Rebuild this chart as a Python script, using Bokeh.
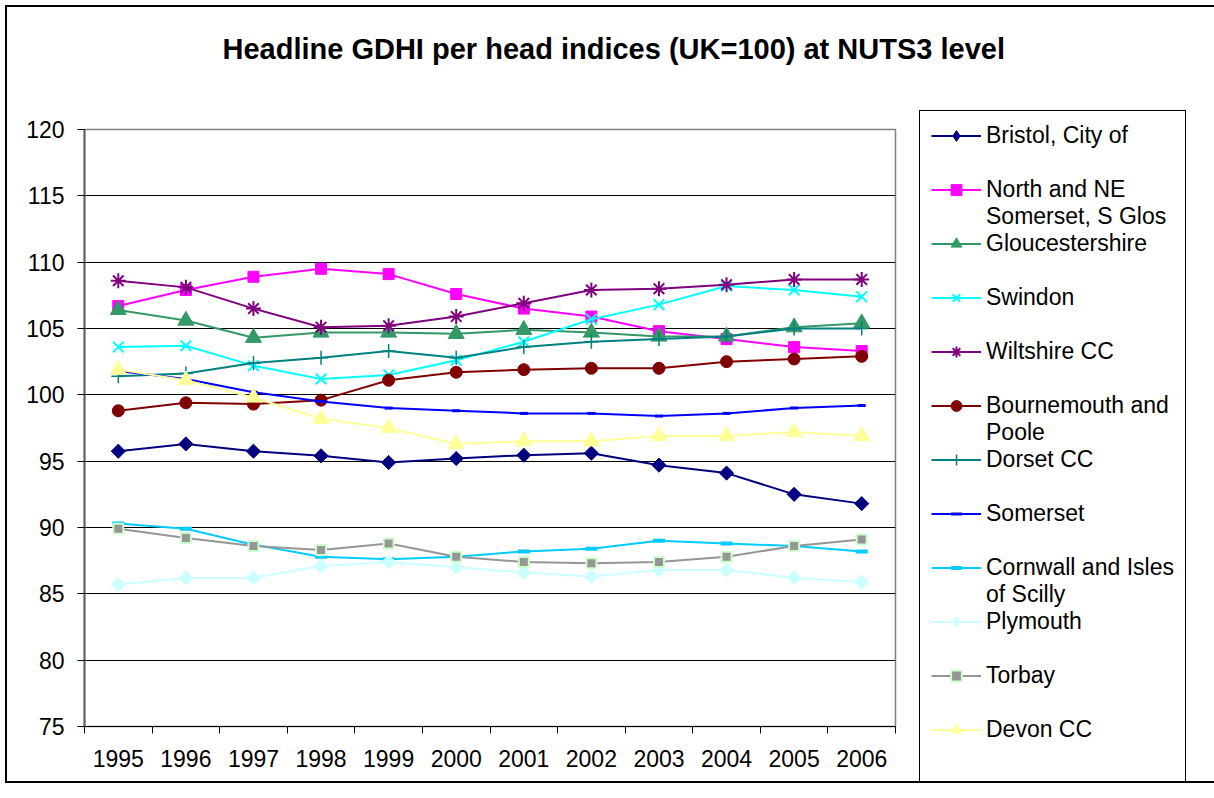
from bokeh.plotting import figure
from bokeh.models import (Legend, LegendItem, FixedTicker, Range1d, Title)
from bokeh.embed import file_html
from bokeh.resources import INLINE
import math

years = [1995, 1996, 1997, 1998, 1999, 2000, 2001, 2002, 2003, 2004, 2005, 2006]

bristol = [95.75, 96.3, 95.75, 95.4, 94.9, 95.2, 95.45, 95.6, 94.7, 94.1, 92.5, 91.8]
nne_somerset = [106.7, 107.9, 108.9, 109.5, 109.1, 107.6, 106.5, 105.9, 104.8, 104.2, 103.6, 103.3]
gloucestershire = [106.4, 105.6, 104.3, 104.7, 104.7, 104.6, 104.9, 104.7, 104.4, 104.4, 105.1, 105.4]
swindon = [103.6, 103.7, 102.2, 101.2, 101.5, 102.6, 104.0, 105.7, 106.8, 108.2, 107.9, 107.4]
wiltshire = [108.6, 108.1, 106.5, 105.1, 105.2, 105.9, 106.9, 107.9, 108.0, 108.3, 108.7, 108.7]
bournemouth = [98.8, 99.4, 99.3, 99.6, 101.1, 101.7, 101.9, 102.0, 102.0, 102.5, 102.7, 102.9]
dorset = [101.4, 101.6, 102.4, 102.8, 103.3, 102.8, 103.6, 104.0, 104.2, 104.4, 105.0, 105.0]
somerset = [101.8, 101.2, 100.2, 99.5, 99.0, 98.8, 98.6, 98.6, 98.4, 98.6, 99.0, 99.2]
cornwall = [90.3, 89.9, 88.7, 87.8, 87.6, 87.8, 88.2, 88.4, 89.0, 88.8, 88.6, 88.2]
plymouth = [85.7, 86.2, 86.2, 87.1, 87.4, 87.0, 86.6, 86.3, 86.8, 86.8, 86.2, 85.9]
torbay = [89.9, 89.2, 88.6, 88.3, 88.8, 87.8, 87.4, 87.3, 87.4, 87.8, 88.6, 89.1]
devon = [101.9, 101.1, 99.8, 98.2, 97.5, 96.3, 96.5, 96.5, 96.9, 96.9, 97.2, 96.9]

y_ticks = [75, 80, 85, 90, 95, 100, 105, 110, 115, 120]

D = math.pi / 4
NAN = float("nan")
# labels, values, line colour, marker, size, angle, fill, outline, marker line width, legend marker
series = [
    (["Bristol, City of"], bristol, "#000080", "square", 10, D, "#000080", "#000080", 1, "diamond"),
    (["North and NE", "Somerset, S Glos"], nne_somerset, "#FF00FF", "square", 11, 0, "#FF00FF", "#FF00FF", 1, None),
    (["Gloucestershire"], gloucestershire, "#339966", "triangle", 16, 0, "#339966", "#339966", 1, None),
    (["Swindon"], swindon, "#00FFFF", "x", 15, 0, "#00FFFF", "#00FFFF", 2, None),
    (["Wiltshire CC"], wiltshire, "#800080", "asterisk", 15, 0, "#800080", "#800080", 2, None),
    (["Bournemouth and", "Poole"], bournemouth, "#800000", "circle", 12, 0, "#800000", "#800000", 1, None),
    (["Dorset CC"], dorset, "#008080", "cross", 14, 0, "#008080", "#008080", 1.5, None),
    (["Somerset"], somerset, "#0000FF", "dash", 8, 0, "#0000FF", "#0000FF", 3, None),
    (["Cornwall and Isles", "of Scilly"], cornwall, "#00CCFF", "dash", 12, 0, "#00CCFF", "#00CCFF", 4, None),
    (["Plymouth"], plymouth, "#CCFFFF", "square", 10, D, "#CCFFFF", "#CCFFFF", 1, "diamond"),
    (["Torbay"], torbay, "#969696", "square", 10, 0, "#969696", "#CCFFCC", 2, None),
    (["Devon CC"], devon, "#FFFF99", "triangle", 16, 0, "#FFFF99", "#FFFF99", 1, None),
]

FONT = "Liberation Sans"

p = figure(frame_width=811, frame_height=597, output_backend="svg", toolbar_location=None,
           x_range=Range1d(1994.5, 2006.5), y_range=Range1d(75, 120),
           min_border_left=77, min_border_right=0, min_border_top=122,
           min_border_bottom=55,
           styles={"border": "2px solid #000000", "margin": "5px"})

p.title = Title(text="Headline GDHI per head indices (UK=100) at NUTS3 level",
                align="left", offset=138, standoff=0, vertical_align="bottom",
                text_font=FONT, text_font_size="29px", text_font_style="bold",
                text_color="black")
spacer = Title(text=" ", text_font_size="1px", standoff=62)
p.add_layout(spacer, "above")

p.outline_line_color = "#808080"
p.outline_line_width = 1.5
p.xgrid.grid_line_color = None
p.ygrid.grid_line_color = "black"
p.ygrid.grid_line_width = 1

p.yaxis.ticker = FixedTicker(ticks=y_ticks)
p.yaxis.major_label_text_font = FONT
p.yaxis.major_label_text_font_size = "23px"
p.yaxis.major_label_text_color = "black"
p.yaxis.axis_line_color = "#606060"
p.yaxis.axis_line_width = 2
p.yaxis.major_tick_line_color = "black"
p.yaxis.major_tick_out = 7
p.yaxis.major_tick_in = 0
p.yaxis.minor_tick_line_color = None
p.yaxis.major_label_standoff = 13

p.xaxis.ticker = FixedTicker(ticks=years, minor_ticks=[y - 0.5 for y in years] + [2006.5])
p.xaxis.major_label_overrides = {y: str(y) for y in years}
p.xaxis.major_label_text_font = FONT
p.xaxis.major_label_text_font_size = "23px"
p.xaxis.major_label_text_color = "black"
p.xaxis.axis_line_color = "black"
p.xaxis.major_tick_line_color = None
p.xaxis.minor_tick_line_color = "black"
p.xaxis.minor_tick_out = 7
p.xaxis.minor_tick_in = 0
p.xaxis.major_label_standoff = 16

items = []
blank = p.scatter(x=[], y=[], size=1, fill_alpha=0, line_alpha=0)
for labels, vals, color, marker, size, ang, fill, outline, lw, lmarker in series:
    lr = p.line(years, vals, line_color=color, line_width=2)
    sr = p.scatter(years, vals, marker=marker, size=size, angle=ang, fill_color=fill,
                   line_color=outline, line_width=lw)
    if lmarker is not None:
        sr = p.scatter(x=[NAN], y=[NAN], marker=lmarker, size=size, fill_color=fill,
                       line_color=outline, line_width=lw)
    items.append(LegendItem(label=labels[0], renderers=[lr, sr]))
    if len(labels) > 1:
        items.append(LegendItem(label=labels[1], renderers=[blank]))
    else:
        items.append(LegendItem(label=" ", renderers=[blank]))

legend = Legend(items=items, location=(24, -56), orientation="vertical",
                label_text_font=FONT, label_text_font_size="23px",
                label_text_color="black", label_height=27, glyph_height=27,
                glyph_width=50, label_standoff=5, spacing=0, padding=11,
                margin=0, border_line_color="black", border_line_width=1.5,
                border_line_alpha=1,
                background_fill_color="white", background_fill_alpha=1)
p.add_layout(legend, "right")

open("out.html", "w").write(file_html(p, INLINE))
